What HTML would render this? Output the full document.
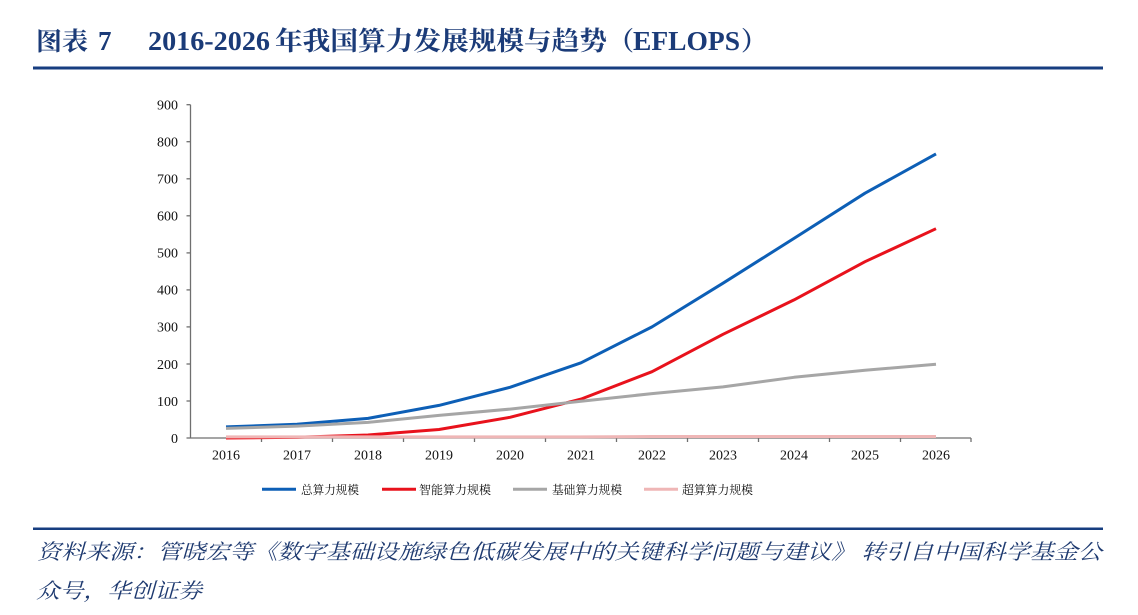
<!DOCTYPE html>
<html><head><meta charset="utf-8">
<style>
html,body{margin:0;padding:0;background:#fff;}
svg{display:block;}
</style></head>
<body>
<svg width="1138" height="615" viewBox="0 0 1138 615" xmlns="http://www.w3.org/2000/svg">
<rect width="1138" height="615" fill="#fff"/>
<!-- Title -->
<g fill="#1b3b78" font-weight="bold">
<text x="36" y="50" font-family="Noto Serif CJK SC, serif" font-size="25" textLength="52" lengthAdjust="spacingAndGlyphs">图表</text>
<text x="98" y="50" font-family="Liberation Serif, serif" font-size="27">7</text>
<text x="148" y="50" font-family="Liberation Serif, serif" font-size="27" textLength="122" lengthAdjust="spacingAndGlyphs">2016-2026</text>
<text x="275" y="50" font-family="Noto Serif CJK SC, serif" font-size="26" textLength="332" lengthAdjust="spacingAndGlyphs">年我国算力发展规模与趋势</text>
<text x="608" y="50" font-family="Noto Serif CJK SC, serif" font-size="26">（</text>
<text x="633" y="50" font-family="Liberation Serif, serif" font-size="27" textLength="107" lengthAdjust="spacingAndGlyphs">EFLOPS</text>
<text x="741" y="50" font-family="Noto Serif CJK SC, serif" font-size="26">）</text>
</g>
<rect x="33" y="66.5" width="1070" height="3" fill="#173e80"/>

<!-- Axes -->
<g stroke="#6f6f6f" stroke-width="1.3" fill="none">
<line x1="190.5" y1="104.7" x2="190.5" y2="438"/>
<line x1="190.5" y1="438" x2="971" y2="438"/>
<line x1="186.5" y1="104.7" x2="190.5" y2="104.7"/>
<line x1="186.5" y1="141.7" x2="190.5" y2="141.7"/>
<line x1="186.5" y1="178.8" x2="190.5" y2="178.8"/>
<line x1="186.5" y1="215.8" x2="190.5" y2="215.8"/>
<line x1="186.5" y1="252.9" x2="190.5" y2="252.9"/>
<line x1="186.5" y1="289.9" x2="190.5" y2="289.9"/>
<line x1="186.5" y1="326.9" x2="190.5" y2="326.9"/>
<line x1="186.5" y1="364.0" x2="190.5" y2="364.0"/>
<line x1="186.5" y1="401.0" x2="190.5" y2="401.0"/>
<line x1="186.5" y1="438" x2="190.5" y2="438"/>
<line x1="261.5" y1="438" x2="261.5" y2="442"/>
<line x1="332.5" y1="438" x2="332.5" y2="442"/>
<line x1="403.5" y1="438" x2="403.5" y2="442"/>
<line x1="474.5" y1="438" x2="474.5" y2="442"/>
<line x1="545.5" y1="438" x2="545.5" y2="442"/>
<line x1="616.5" y1="438" x2="616.5" y2="442"/>
<line x1="687.5" y1="438" x2="687.5" y2="442"/>
<line x1="758.5" y1="438" x2="758.5" y2="442"/>
<line x1="829.5" y1="438" x2="829.5" y2="442"/>
<line x1="900.5" y1="438" x2="900.5" y2="442"/>
<line x1="971" y1="438" x2="971" y2="442"/>
</g>
<g font-family="Liberation Serif, serif" font-size="14" fill="#111" text-anchor="end">
<text x="178" y="109.5">900</text>
<text x="178" y="146.5">800</text>
<text x="178" y="183.6">700</text>
<text x="178" y="220.6">600</text>
<text x="178" y="257.7">500</text>
<text x="178" y="294.7">400</text>
<text x="178" y="331.7">300</text>
<text x="178" y="368.8">200</text>
<text x="178" y="405.8">100</text>
<text x="178" y="442.8">0</text>
</g>
<g font-family="Liberation Serif, serif" font-size="14" fill="#111" text-anchor="middle">
<text x="226" y="459.5">2016</text>
<text x="297" y="459.5">2017</text>
<text x="368" y="459.5">2018</text>
<text x="439" y="459.5">2019</text>
<text x="510" y="459.5">2020</text>
<text x="581" y="459.5">2021</text>
<text x="652" y="459.5">2022</text>
<text x="723" y="459.5">2023</text>
<text x="794" y="459.5">2024</text>
<text x="865" y="459.5">2025</text>
<text x="936" y="459.5">2026</text>
</g>

<!-- Series -->
<g fill="none" stroke-width="3" stroke-linejoin="round" stroke-linecap="butt">
<polyline stroke="#0d5fb6" points="226,426.9 297,424.3 368,418.4 439,405.4 510,387.3 581,362.8 652,326.9 723,283.2 794,238.4 865,193.2 936,153.9"/>
<polyline stroke="#e8121c" points="226,438 297,437.3 368,435.0 439,429.5 510,417.3 581,399.1 652,371.7 723,334.3 794,299.9 865,261.7 936,228.7"/>
<polyline stroke="#a6a6a6" points="226,428.4 297,426.1 368,422.4 439,415.4 510,409.1 581,401.3 652,393.6 723,386.9 794,377.3 865,370.2 936,364.3"/>
<polyline stroke="#efb6b6" points="226,436.9 297,436.9 368,436.9 439,436.9 510,436.9 581,436.9 652,436.5 723,436.5 794,436.5 865,436.5 936,436.5"/>
</g>

<!-- Legend -->
<g stroke-width="3">
<line x1="262" y1="489.3" x2="296" y2="489.3" stroke="#0d5fb6"/>
<line x1="382" y1="489.3" x2="416" y2="489.3" stroke="#e8121c"/>
<line x1="513" y1="489.3" x2="547" y2="489.3" stroke="#a6a6a6"/>
<line x1="644" y1="489.3" x2="678" y2="489.3" stroke="#efb6b6"/>
</g>
<g font-family="Noto Serif CJK SC, serif" font-size="12" fill="#111">
<text x="301" y="494" textLength="58" lengthAdjust="spacingAndGlyphs">总算力规模</text>
<text x="419" y="494" textLength="72" lengthAdjust="spacingAndGlyphs">智能算力规模</text>
<text x="552" y="494" textLength="70" lengthAdjust="spacingAndGlyphs">基础算力规模</text>
<text x="682" y="494" textLength="71" lengthAdjust="spacingAndGlyphs">超算算力规模</text>
</g>

<!-- Footer -->
<rect x="33" y="527.5" width="1070" height="2.5" fill="#173e80"/>
<g font-family="Noto Serif CJK SC, serif" font-size="21" fill="#1e3a70" font-style="italic">
<text x="37" y="559" textLength="1065" lengthAdjust="spacingAndGlyphs">资料来源：管晓宏等《数字基础设施绿色低碳发展中的关键科学问题与建议》 转引自中国科学基金公</text>
<text x="36" y="598" textLength="166" lengthAdjust="spacingAndGlyphs">众号，华创证券</text>
</g>
</svg>
</body></html>
